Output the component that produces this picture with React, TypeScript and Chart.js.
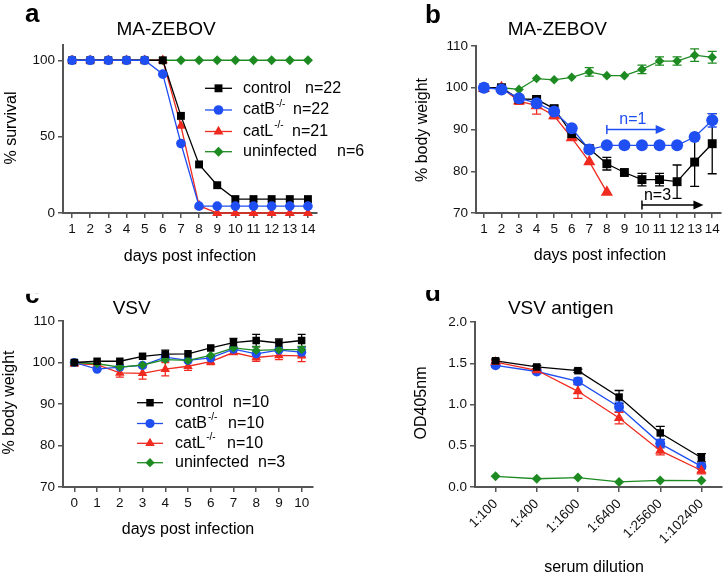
import React, { useEffect, useRef } from 'react';
import { Chart, registerables } from 'chart.js';
Chart.register(...registerables);

const FONT = "'Liberation Sans', Arial, Helvetica, sans-serif";
const C_BLACK = '#000000';
const C_BLUE = '#1f4ff2';
const C_RED = '#f02a1e';
const C_GREEN = '#1e8b22';
const C_AXIS = '#555555';

// ---------- panel a: survival ----------
const daysA = [1, 2, 3, 4, 5, 6, 7, 8, 9, 10, 11, 12, 13, 14];
const survControl = [100, 100, 100, 100, 100, 100, 63.6, 31.8, 18.2, 9.1, 9.1, 9.1, 9.1, 9.1];
const survCatB = [100, 100, 100, 100, 100, 90.9, 45.5, 4.5, 4.5, 4.5, 4.5, 4.5, 4.5, 4.5];
const survCatL = [100, 100, 100, 100, 100, 100, 57.1, 4.8, 0, 0, 0, 0, 0, 0];
const survUninf = [100, 100, 100, 100, 100, 100, 100, 100, 100, 100, 100, 100, 100, 100];
const survYTicks = [0, 50, 100];

// ---------- panel b: MA-ZEBOV body weight ----------
const daysB = [1, 2, 3, 4, 5, 6, 7, 8, 9, 10, 11, 12, 13, 14];
const wControl = [100, 100, 97.3, 97.2, 95, 89, 85.4, 81.8, 79.7, 78, 78, 77.5, 82.2, 86.6];
const wControlErr = [0, 0.5, 0, 0.8, 0, 0, 0.8, 1.5, 0, 1.5, 1.5, 4, 5.8, 7.2];
const wCatB = [100, 99.6, 97.5, 96.3, 94.3, 90.3, 85.2, 86.2, 86.2, 86.2, 86.2, 86.2, 88.2, 92.2];
const wCatBErr = [0, 0, 0, 1, 0, 0, 0, 0, 0, 0, 0, 0, 0, 1.6];
const wCatL = [99.8, 100, 96.8, 95.7, 93.3, 88, 82.3, 75];
const wCatLErr = [0, 0, 0.8, 2, 0.7, 0, 0, 0];
const wUninf = [100, 100, 99.6, 102.2, 101.9, 102.5, 103.8, 102.9, 102.9, 104.4, 106.4, 106.4, 107.8, 107.3];
const wUninfErr = [0, 0, 0, 0, 0, 0, 1, 0, 0, 1, 1, 1, 1.5, 1.4];
const weightYTicks = [70, 80, 90, 100, 110];
const arrowLabels = ['n=1', 'n=3'];
const arrowY = [90, 71.9];
const arrowFrom = [8, 10];
const arrowTo = [11.35, 13.5];

// ---------- panel c: VSV body weight ----------
const daysC = [0, 1, 2, 3, 4, 5, 6, 7, 8, 9, 10];
const vControl = [100, 100.3, 100.3, 101.5, 102, 102.1, 103.5, 104.8, 105.3, 104.7, 105.3];
const vControlErr = [0, 0, 0, 0, 1, 0, 0, 1, 1.5, 1, 1.5];
const vCatB = [100, 98.4, 98.9, 99.3, 101.3, 100.5, 101.1, 103.2, 102.1, 103, 102.5];
const vCatBErr = [0, 0, 0, 0, 1, 0, 0, 0, 0, 0, 1];
const vCatL = [99.7, 99.5, 97.5, 97.4, 98.4, 99.1, 100.2, 102.4, 101.2, 101.7, 101.6];
const vCatLErr = [0.5, 0, 1, 1.4, 1.6, 1, 0.7, 0, 0.9, 1, 1.4];
const vUninf = [100, 99.7, 98.9, 99.4, 100.7, 100.5, 101.7, 103.5, 102.9, 103.1, 103.1];
const vUninfErr = [0, 0, 0, 0, 0, 0, 0, 0, 1, 0, 0.8];

// ---------- panel d: VSV antigen ELISA ----------
const dilutions = ['1:100', '1:400', '1:1600', '1:6400', '1:25600', '1:102400'];
const odControl = [1.53, 1.455, 1.41, 1.09, 0.655, 0.355];
const odControlErr = [0.02, 0.02, 0.02, 0.08, 0.08, 0.05];
const odCatB = [1.475, 1.4, 1.28, 0.97, 0.526, 0.25];
const odCatBErr = [0.02, 0.02, 0.04, 0.06, 0.05, 0.03];
const odCatL = [1.515, 1.415, 1.16, 0.836, 0.44, 0.2];
const odCatLErr = [0.02, 0.02, 0.085, 0.07, 0.05, 0.04];
const odUninf = [0.13, 0.1, 0.114, 0.062, 0.08, 0.078];
const odYTicks = [0, 0.5, 1, 1.5, 2];

// legends
const legendNames = ['control', 'catB', 'catL', 'uninfected'];
const legendSup = ['', '-/-', '-/-', ''];
const legendCountsA = ['n=22', 'n=22', 'n=21', 'n=6'];
const legendCountsC = ['n=10', 'n=10', 'n=10', 'n=3'];

function ds(label: string, data: number[], color: string, style: string, r: number, order: number, errors?: number[], cap = 4) {
  return {
    label, data, order, errors, cap,
    borderColor: color, backgroundColor: color,
    pointBackgroundColor: color, pointBorderColor: color,
    pointStyle: style, pointRadius: r, pointBorderWidth: 0, pointHoverRadius: r,
    borderWidth: 1.3, fill: false, tension: 0, clip: false,
  } as any;
}

function drawMarker(ctx: CanvasRenderingContext2D, style: string, x: number, y: number, r: number, color: string) {
  ctx.fillStyle = color;
  ctx.beginPath();
  if (style === 'circle') ctx.arc(x, y, r, 0, Math.PI * 2);
  else if (style === 'rect') { const s = Math.SQRT1_2 * r; ctx.rect(x - s, y - s, 2 * s, 2 * s); }
  else if (style === 'triangle') { ctx.moveTo(x, y - r); ctx.lineTo(x + 0.866 * r, y + 0.5 * r); ctx.lineTo(x - 0.866 * r, y + 0.5 * r); ctx.closePath(); }
  else { ctx.moveTo(x - r, y); ctx.lineTo(x, y - r); ctx.lineTo(x + r, y); ctx.lineTo(x, y + r); ctx.closePath(); }
  ctx.fill();
}

const errorBarPlugin = {
  id: 'errbars',
  beforeDatasetsDraw(chart: any) {
    const ctx = chart.ctx;
    const ys = chart.scales.y;
    chart.data.datasets.forEach((d: any, i: number) => {
      if (!d.errors) return;
      const meta = chart.getDatasetMeta(i);
      ctx.save();
      ctx.strokeStyle = d.borderColor;
      ctx.lineWidth = 1.3;
      meta.data.forEach((pt: any, j: number) => {
        const e = d.errors[j];
        if (!e) return;
        const v = d.data[j];
        const yt = ys.getPixelForValue(v + e);
        const yb = ys.getPixelForValue(v - e);
        const c = d.cap;
        ctx.beginPath();
        ctx.moveTo(pt.x, yt); ctx.lineTo(pt.x, yb);
        ctx.moveTo(pt.x - c, yt); ctx.lineTo(pt.x + c, yt);
        ctx.moveTo(pt.x - c, yb); ctx.lineTo(pt.x + c, yb);
        ctx.stroke();
      });
      ctx.restore();
    });
  },
};

type Txt = { t: string; x: number; y: number; size: number; bold?: boolean; align?: CanvasTextAlign; base?: CanvasTextBaseline; rot?: number; color?: string; clipTop?: number };

function drawText(ctx: CanvasRenderingContext2D, t: Txt) {
  ctx.save();
  if (t.clipTop != null) { ctx.beginPath(); ctx.rect(0, t.clipTop, 10000, 10000); ctx.clip(); }
  ctx.font = `${t.bold ? 'bold ' : ''}${t.size}px ${FONT}`;
  ctx.fillStyle = t.color || '#000';
  ctx.textAlign = t.align || 'center';
  ctx.textBaseline = t.base || 'middle';
  ctx.translate(t.x, t.y);
  if (t.rot) ctx.rotate(t.rot);
  ctx.fillText(t.t, 0, 0);
  ctx.restore();
}

type LegendSpec = { rows: number[]; x1: number; x2: number; textX: number; nX: number[]; counts: string[]; dsIdx: number[] };

function makeDeco(id: string, texts: Txt[], legend?: LegendSpec, arrows?: boolean) {
  return {
    id: 'deco_' + id,
    afterDraw(chart: any) {
      const ctx: CanvasRenderingContext2D = chart.ctx;
      texts.forEach((t) => drawText(ctx, t));
      if (legend) {
        legend.rows.forEach((y, i) => {
          const d = chart.data.datasets[legend.dsIdx[i]];
          ctx.save();
          ctx.strokeStyle = d.borderColor;
          ctx.lineWidth = 1.3;
          ctx.beginPath(); ctx.moveTo(legend.x1, y); ctx.lineTo(legend.x2, y); ctx.stroke();
          drawMarker(ctx, d.pointStyle, (legend.x1 + legend.x2) / 2, y, d.pointRadius, d.borderColor);
          ctx.fillStyle = '#000';
          ctx.textAlign = 'left';
          ctx.textBaseline = 'middle';
          ctx.font = `16px ${FONT}`;
          ctx.fillText(legendNames[i], legend.textX, y);
          if (legendSup[i]) {
            const w = ctx.measureText(legendNames[i]).width;
            ctx.font = `10px ${FONT}`;
            ctx.fillText(legendSup[i], legend.textX + w + 1, y - 6);
            ctx.font = `16px ${FONT}`;
          }
          ctx.fillText(legend.counts[i], legend.nX[i], y);
          ctx.restore();
        });
      }
      if (arrows) {
        const xs = chart.scales.x, ys = chart.scales.y;
        const cols = [C_BLUE, C_BLACK];
        const labOff = [[12.5, -6], [2, -5]];
        arrowLabels.forEach((lab, i) => {
          const x0 = xs.getPixelForValue(arrowFrom[i]);
          const x1 = xs.getPixelForValue(arrowTo[i]);
          const y = ys.getPixelForValue(arrowY[i]);
          ctx.save();
          ctx.strokeStyle = cols[i];
          ctx.fillStyle = cols[i];
          ctx.lineWidth = 1.5;
          ctx.beginPath();
          ctx.moveTo(x0, y - 4.5); ctx.lineTo(x0, y + 4.5);
          ctx.moveTo(x0, y); ctx.lineTo(x1 - 8, y);
          ctx.stroke();
          ctx.beginPath();
          ctx.moveTo(x1, y); ctx.lineTo(x1 - 10, y - 4.5); ctx.lineTo(x1 - 10, y + 4.5); ctx.closePath();
          ctx.fill();
          ctx.font = `16px ${FONT}`;
          ctx.textAlign = 'left';
          ctx.textBaseline = 'alphabetic';
          ctx.fillText(lab, x0 + labOff[i][0], y + labOff[i][1]);
          ctx.restore();
        });
      }
    },
  };
}

type Geo = { w: number; h: number; L: number; T: number; R: number; B: number };

function axisStyle() {
  return {
    grid: { display: true, drawOnChartArea: false, drawTicks: true, tickLength: 5, color: C_AXIS, lineWidth: 1.5 },
    border: { display: true, color: C_AXIS, width: 2 },
  };
}

function linearX(min: number, max: number, ticks: number[], g: Geo) {
  return {
    type: 'linear', min, max,
    afterBuildTicks: (s: any) => { s.ticks = ticks.map((v) => ({ value: v })); },
    afterFit: (s: any) => { s.height = g.h - g.B; },
    ticks: { autoSkip: false, maxRotation: 0, minRotation: 0, padding: 3, color: '#111', font: { size: 13.5, family: FONT }, callback: (v: any) => String(v) },
    ...axisStyle(),
  };
}

function linearY(min: number, max: number, ticks: number[], g: Geo, fmt?: (v: number) => string) {
  return {
    type: 'linear', min, max,
    afterBuildTicks: (s: any) => { s.ticks = ticks.map((v) => ({ value: v })); },
    afterFit: (s: any) => { s.width = g.L; },
    ticks: { autoSkip: false, padding: 3, color: '#111', font: { size: 13.5, family: FONT }, callback: (v: any) => (fmt ? fmt(v) : String(v)) },
    ...axisStyle(),
  };
}

function baseOptions(g: Geo, scales: any) {
  return {
    responsive: false,
    animation: false,
    events: [],
    layout: { padding: { left: 0, top: g.T, right: g.w - g.R, bottom: 0 } },
    plugins: { legend: { display: false }, title: { display: false }, tooltip: { enabled: false } },
    scales,
  } as any;
}

const geoA: Geo = { w: 364, h: 290, L: 63, T: 45, R: 317, B: 213 };
const geoB: Geo = { w: 364, h: 290, L: 112, T: 46, R: 361, B: 213 };
const geoC: Geo = { w: 364, h: 287, L: 63, T: 31, R: 313, B: 197 };
const geoD: Geo = { w: 364, h: 287, L: 111, T: 32, R: 360, B: 197 };

export default function App() {
  const a = useRef<HTMLCanvasElement>(null);
  const b = useRef<HTMLCanvasElement>(null);
  const c = useRef<HTMLCanvasElement>(null);
  const d = useRef<HTMLCanvasElement>(null);

  useEffect(() => {
    Chart.defaults.font.family = FONT;
    const charts: Chart[] = [];

    // panel a
    charts.push(new Chart(a.current!, {
      type: 'line',
      data: {
        labels: daysA,
        datasets: [
          ds('control', survControl, C_BLACK, 'rect', 5.6, 1),
          ds('catB', survCatB, C_BLUE, 'circle', 4.8, 0),
          ds('catL', survCatL, C_RED, 'triangle', 5.8, 2),
          ds('uninfected', survUninf, C_GREEN, 'rectRot', 5, 3),
        ],
      },
      options: baseOptions(geoA, {
        x: linearX(0.5, 14.5, daysA, geoA),
        y: linearY(0, 110, survYTicks, geoA),
      }),
      plugins: [errorBarPlugin, makeDeco('a', [
        { t: 'a', x: 25, y: 21.5, size: 26, bold: true, align: 'left', base: 'alphabetic' },
        { t: 'MA-ZEBOV', x: 166, y: 35, size: 19, base: 'alphabetic' },
        { t: '% survival', x: 11.5, y: 128, size: 16, rot: -Math.PI / 2 },
        { t: 'days post infection', x: 190, y: 256.5, size: 16 },
      ], { rows: [88.3, 110, 131.5, 151.7], x1: 205, x2: 232, textX: 243, nX: [305, 293, 292, 337], counts: legendCountsA, dsIdx: [0, 1, 2, 3] })],
    } as any));

    // panel b
    charts.push(new Chart(b.current!, {
      type: 'line',
      data: {
        labels: daysB,
        datasets: [
          ds('control', wControl, C_BLACK, 'rect', 6.3, 1, wControlErr, 4.5),
          ds('catB', wCatB, C_BLUE, 'circle', 6, 0, wCatBErr, 4.5),
          ds('catL', wCatL, C_RED, 'triangle', 7, 2, wCatLErr, 4.5),
          ds('uninfected', wUninf, C_GREEN, 'rectRot', 4.8, 3, wUninfErr, 4.5),
        ],
      },
      options: baseOptions(geoB, {
        x: linearX(0.55, 14.5, daysB, geoB),
        y: linearY(70, 110, weightYTicks, geoB),
      }),
      plugins: [errorBarPlugin, makeDeco('b', [
        { t: 'b', x: 61, y: 22.7, size: 26, bold: true, align: 'left', base: 'alphabetic' },
        { t: 'MA-ZEBOV', x: 193.3, y: 35, size: 19, base: 'alphabetic' },
        { t: '% body weight', x: 58.5, y: 130, size: 16, rot: -Math.PI / 2 },
        { t: 'days post infection', x: 236, y: 256, size: 16 },
      ], undefined, true)],
    } as any));

    // panel c
    charts.push(new Chart(c.current!, {
      type: 'line',
      data: {
        labels: daysC,
        datasets: [
          ds('control', vControl, C_BLACK, 'rect', 5.3, 0, vControlErr, 4),
          ds('catB', vCatB, C_BLUE, 'circle', 4.6, 2, vCatBErr, 4),
          ds('catL', vCatL, C_RED, 'triangle', 5.5, 3, vCatLErr, 4),
          ds('uninfected', vUninf, C_GREEN, 'rectRot', 4.6, 1, vUninfErr, 4),
        ],
      },
      options: baseOptions(geoC, {
        x: linearX(-0.5, 10.5, daysC, geoC),
        y: linearY(70, 110, weightYTicks, geoC),
      }),
      plugins: [errorBarPlugin, makeDeco('c', [
        { t: 'c', x: 25, y: 12.7, size: 26, bold: true, align: 'left', base: 'alphabetic', clipTop: 3.7 },
        { t: 'VSV', x: 131.7, y: 24, size: 19, base: 'alphabetic' },
        { t: '% body weight', x: 10, y: 112.5, size: 16, rot: -Math.PI / 2 },
        { t: 'days post infection', x: 188, y: 240, size: 16 },
      ], { rows: [112.7, 133.5, 153.3, 172.7], x1: 137, x2: 163, textX: 175, nX: [233, 228, 227, 258], counts: legendCountsC, dsIdx: [0, 1, 2, 3] })],
    } as any));

    // panel d
    charts.push(new Chart(d.current!, {
      type: 'line',
      data: {
        labels: dilutions,
        datasets: [
          ds('control', odControl, C_BLACK, 'rect', 5.3, 0, odControlErr, 4.5),
          ds('catB', odCatB, C_BLUE, 'circle', 5, 2, odCatBErr, 4.5),
          ds('catL', odCatL, C_RED, 'triangle', 6, 1, odCatLErr, 4.5),
          ds('uninfected', odUninf, C_GREEN, 'rectRot', 5, 3),
        ],
      },
      options: baseOptions(geoD, {
        x: {
          type: 'category', offset: true,
          afterFit: (s: any) => { s.height = geoD.h - geoD.B; },
          ticks: { autoSkip: false, maxRotation: 45, minRotation: 45, padding: 4, color: '#111', font: { size: 13.5, family: FONT } },
          ...axisStyle(),
        },
        y: linearY(0, 2, odYTicks, geoD, (v) => v.toFixed(1)),
      }),
      plugins: [errorBarPlugin, makeDeco('d', [
        { t: 'd', x: 61, y: 11.3, size: 26, bold: true, align: 'left', base: 'alphabetic' },
        { t: 'VSV antigen', x: 196.7, y: 24, size: 19, base: 'alphabetic' },
        { t: 'OD405nm', x: 58, y: 113, size: 16, rot: -Math.PI / 2 },
        { t: 'serum dilution', x: 230, y: 278, size: 16 },
      ])],
    } as any));

    return () => charts.forEach((ch) => ch.destroy());
  }, []);

  const cs = (left: number, top: number, h: number): React.CSSProperties => ({ position: 'absolute', left, top, width: 364, height: h });
  return (
    <div style={{ position: 'absolute', left: 0, top: 0, width: 728, height: 577, background: '#fff', overflow: 'hidden' }}>
      <canvas ref={a} width={364} height={290} style={cs(0, 0, 290)} />
      <canvas ref={b} width={364} height={290} style={cs(364, 0, 290)} />
      <canvas ref={c} width={364} height={287} style={cs(0, 290, 287)} />
      <canvas ref={d} width={364} height={287} style={cs(364, 290, 287)} />
    </div>
  );
}
